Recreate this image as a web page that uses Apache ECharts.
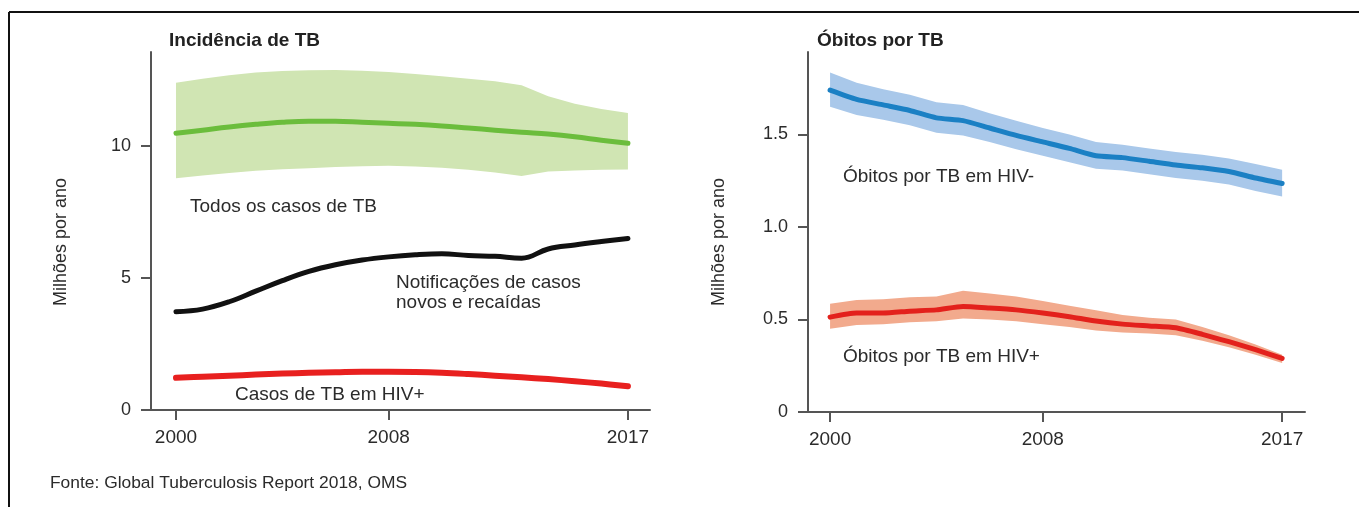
<!DOCTYPE html>
<html>
<head>
<meta charset="utf-8">
<script src="https://cdn.jsdelivr.net/npm/echarts@6/dist/echarts.min.js"></script>
<style>
  html, body { margin: 0; padding: 0; background: #fff; }
  #chart { width: 1359px; height: 507px; }
</style>
</head>
<body>
<div id="chart"></div>
<script>
const years = [2000, 2001, 2002, 2003, 2004, 2005, 2006, 2007, 2008, 2009, 2010, 2011, 2012, 2013, 2014, 2015, 2016, 2017];

// Incidência de TB (milhões por ano)
const incidence = [10.48, 10.6, 10.72, 10.82, 10.9, 10.94, 10.94, 10.9, 10.86, 10.82, 10.76, 10.68, 10.6, 10.52, 10.45, 10.35, 10.22, 10.1];
const incidenceLow = [8.78, 8.88, 8.98, 9.06, 9.12, 9.16, 9.2, 9.23, 9.25, 9.22, 9.18, 9.1, 9.0, 8.86, 9.03, 9.07, 9.1, 9.11];
const incidenceHigh = [12.4, 12.55, 12.68, 12.78, 12.84, 12.87, 12.88, 12.85, 12.8, 12.73, 12.64, 12.55, 12.45, 12.3, 11.88, 11.6, 11.4, 11.25];
const notifications = [3.72, 3.82, 4.1, 4.5, 4.9, 5.25, 5.5, 5.68, 5.8, 5.88, 5.92, 5.85, 5.82, 5.75, 6.1, 6.25, 6.38, 6.5];
const hivCases = [1.22, 1.26, 1.3, 1.34, 1.38, 1.41, 1.43, 1.45, 1.45, 1.44, 1.41, 1.36, 1.3, 1.24, 1.17, 1.09, 1.0, 0.9];

// Óbitos por TB (milhões por ano)
const deathsNeg = [1.74, 1.69, 1.66, 1.63, 1.59, 1.575, 1.535, 1.495, 1.46, 1.425, 1.385, 1.375, 1.355, 1.335, 1.32, 1.3, 1.265, 1.235];
const deathsNegLow = [1.65, 1.605, 1.58, 1.55, 1.51, 1.495, 1.46, 1.42, 1.385, 1.35, 1.315, 1.305, 1.285, 1.265, 1.25, 1.23, 1.195, 1.165];
const deathsNegHigh = [1.835, 1.78, 1.745, 1.715, 1.675, 1.66, 1.615, 1.575, 1.535, 1.5, 1.46, 1.445, 1.425, 1.405, 1.39, 1.37, 1.34, 1.31];
const deathsPos = [0.513, 0.535, 0.535, 0.545, 0.552, 0.57, 0.562, 0.552, 0.535, 0.515, 0.492, 0.475, 0.465, 0.455, 0.42, 0.38, 0.337, 0.29];
const deathsPosLow = [0.45, 0.47, 0.475, 0.485, 0.49, 0.505, 0.5, 0.49, 0.475, 0.46, 0.44, 0.43, 0.425, 0.415, 0.385, 0.35, 0.31, 0.265];
const deathsPosHigh = [0.585, 0.605, 0.61, 0.62, 0.625, 0.655, 0.64, 0.625, 0.6, 0.575, 0.55, 0.525, 0.51, 0.5, 0.46, 0.415, 0.365, 0.31];

const xTicks = [2000, 2008, 2017];
const leftTicks = [0, 5, 10];
const rightTicks = [0, 0.5, 1.0, 1.5];

const FONT = "'Liberation Sans', Arial, sans-serif";
const TEXT = '#2b2b2b';
const AXIS = '#555';

const chart = echarts.init(document.getElementById('chart'));

function pairs(vals) {
    return years.map((y, i) => [y, vals[i]]);
}

function xAxisOf(idx, min, max) {
    return {
        type: 'value', gridIndex: idx, min: min, max: max,
        axisLine: { lineStyle: { color: AXIS, width: 2 } },
        axisTick: { show: true, length: 10, customValues: xTicks, lineStyle: { color: AXIS, width: 2 } },
        axisLabel: {
            customValues: xTicks, margin: 18, color: TEXT, fontSize: 19, fontFamily: FONT,
            formatter: v => String(v)
        },
        splitLine: { show: false }
    };
}
function yAxisOf(idx, max, ticks, fmt) {
    return {
        type: 'value', gridIndex: idx, min: 0, max: max,
        axisLine: { show: true, lineStyle: { color: AXIS, width: 2 } },
        axisTick: { show: true, length: 10, customValues: ticks, lineStyle: { color: AXIS, width: 2 } },
        axisLabel: { customValues: ticks, margin: 20, color: TEXT, fontSize: 18, fontFamily: FONT, formatter: fmt },
        splitLine: { show: false }
    };
}

// uncertainty band: one polygon through the high values and back along the low ones
function band(name, xi, lo, hi, color) {
    return {
        name: name, type: 'custom', xAxisIndex: xi, yAxisIndex: xi, silent: true,
        data: years.map((y, i) => [y, lo[i], hi[i]]),
        encode: { x: 0, y: [1, 2] },
        renderItem: function (params, api) {
            if (params.dataIndex !== 0) return;
            const pts = [];
            for (let i = 0; i < years.length; i++) pts.push(api.coord([years[i], hi[i]]));
            for (let i = years.length - 1; i >= 0; i--) pts.push(api.coord([years[i], lo[i]]));
            return { type: 'polygon', shape: { points: pts }, style: { fill: color } };
        }
    };
}
function line(name, xi, vals, color, width, smooth) {
    return {
        name: name, type: 'line', xAxisIndex: xi, yAxisIndex: xi,
        data: pairs(vals), symbol: 'none', smooth: smooth,
        lineStyle: { color: color, width: width, cap: 'round', join: 'round' }
    };
}

function label(x, y, text, extra) {
    return {
        type: 'text', x: x, y: y,
        style: Object.assign({ text: text, fill: TEXT, font: '19px ' + FONT, textVerticalAlign: 'middle' }, extra || {})
    };
}

const option = {
    animation: false,
    backgroundColor: '#fff',
    grid: [
        { left: 151, top: 52, width: 499, height: 358 },
        { left: 808, top: 52, width: 497, height: 360 }
    ],
    xAxis: [xAxisOf(0, 1999.06, 2017.83), xAxisOf(1, 1999.17, 2017.86)],
    yAxis: [
        yAxisOf(0, 13.56, leftTicks, v => String(v)),
        yAxisOf(1, 1.946, rightTicks, v => (v === 0 ? '0' : v.toFixed(1)))
    ],
    series: [
        band('Incidência (intervalo)', 0, incidenceLow, incidenceHigh, '#d0e5b3'),
        line('Todos os casos de TB', 0, incidence, '#6bbd3c', 5, 0.4),
        line('Notificações de casos novos e recaídas', 0, notifications, '#111', 5, 0.4),
        line('Casos de TB em HIV+', 0, hivCases, '#e8201f', 6, 0.4),
        band('HIV- (intervalo)', 1, deathsNegLow, deathsNegHigh, '#a9c8ea'),
        line('Óbitos por TB em HIV-', 1, deathsNeg, '#1b80c4', 5, 0.2),
        band('HIV+ (intervalo)', 1, deathsPosLow, deathsPosHigh, '#f2aa8d'),
        line('Óbitos por TB em HIV+', 1, deathsPos, '#e3211c', 5, 0.2)
    ],
    graphic: [
        // frame
        { type: 'line', shape: { x1: 9, y1: 12, x2: 1359, y2: 12 }, style: { stroke: '#111', lineWidth: 2 } },
        { type: 'line', shape: { x1: 9, y1: 12, x2: 9, y2: 507 }, style: { stroke: '#111', lineWidth: 2 } },
        // titles
        label(169, 41, 'Incidência de TB', { font: 'bold 19px ' + FONT, fill: '#222' }),
        label(817, 41, 'Óbitos por TB', { font: 'bold 19px ' + FONT, fill: '#222' }),
        // axis names
        {
            type: 'text', x: 61, y: 242, rotation: Math.PI / 2,
            style: { text: 'Milhões por ano', fill: TEXT, font: '18px ' + FONT, textAlign: 'center', textVerticalAlign: 'middle' }
        },
        {
            type: 'text', x: 719, y: 242, rotation: Math.PI / 2,
            style: { text: 'Milhões por ano', fill: TEXT, font: '18px ' + FONT, textAlign: 'center', textVerticalAlign: 'middle' }
        },
        // series annotations
        label(190, 207, 'Todos os casos de TB'),
        label(396, 283, 'Notificações de casos'),
        label(396, 303, 'novos e recaídas'),
        label(235, 395, 'Casos de TB em HIV+'),
        label(843, 177, 'Óbitos por TB em HIV-'),
        label(843, 357, 'Óbitos por TB em HIV+'),
        // source
        label(50, 483, 'Fonte: Global Tuberculosis Report 2018, OMS', { font: '17.4px ' + FONT })
    ]
};

chart.setOption(option);
</script>
</body>
</html>
